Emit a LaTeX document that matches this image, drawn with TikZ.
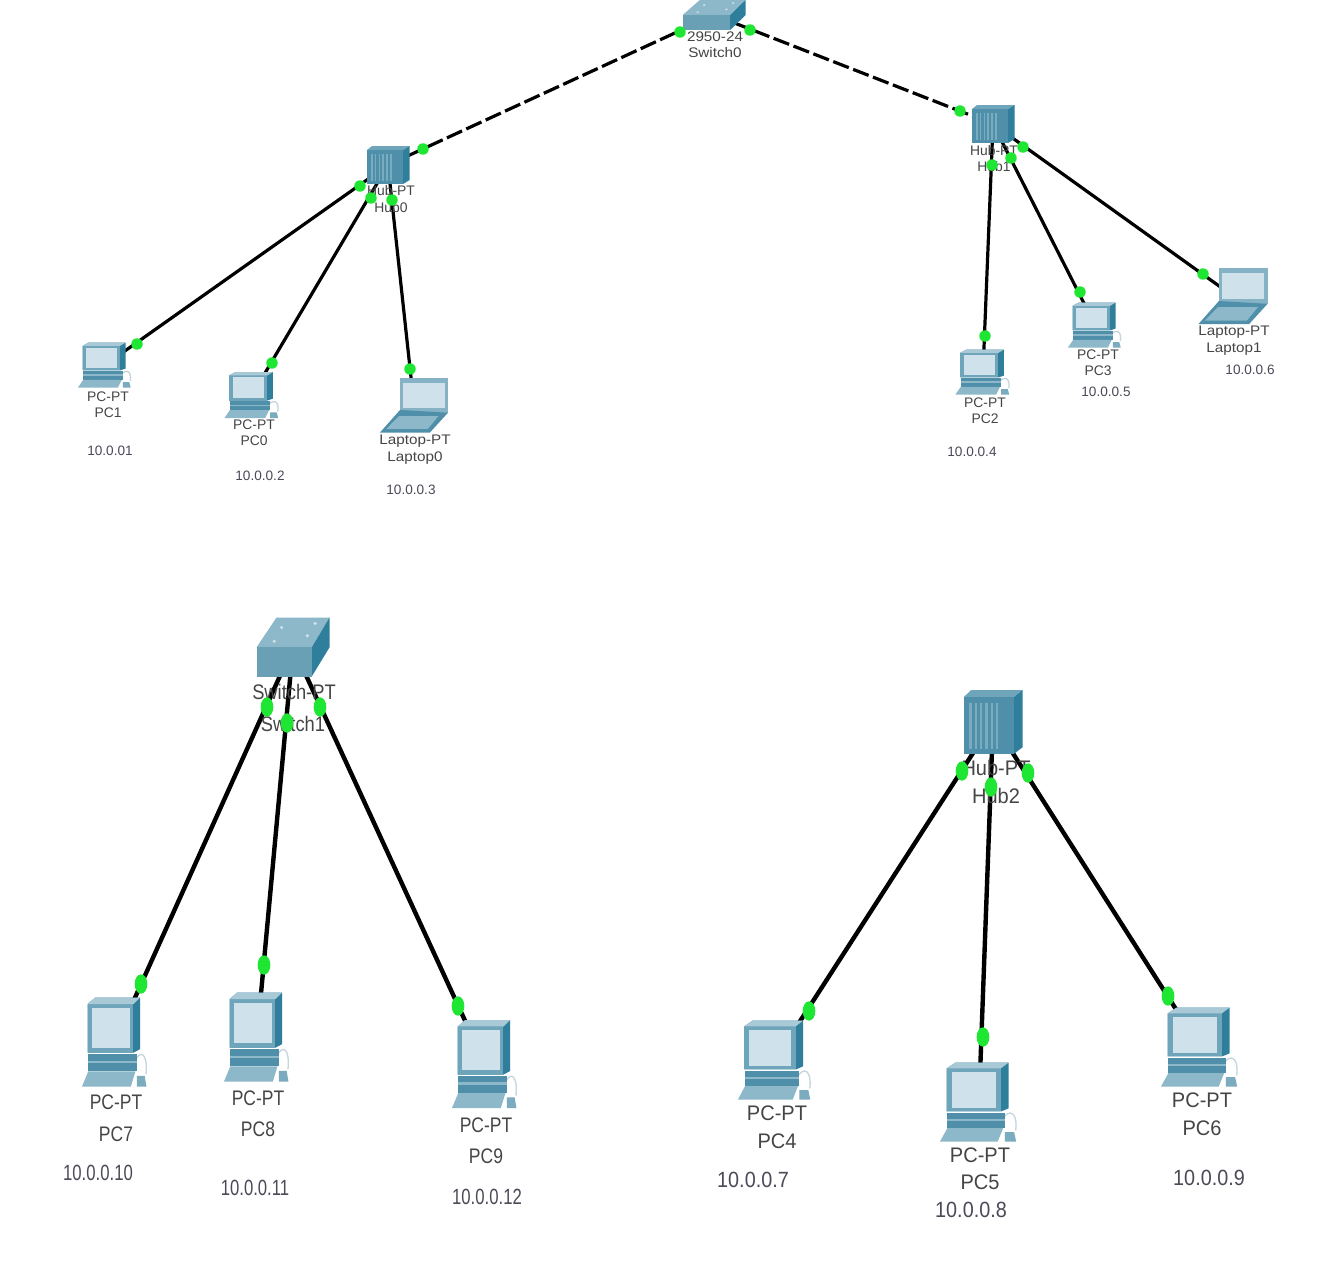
\documentclass[tikz,border=0pt]{standalone}
\usepackage{graphicx}
\usepackage{fontspec}
\setmainfont{Liberation Sans}
\usetikzlibrary{shapes.geometric}
\definecolor{frameC}{HTML}{6FA5BA}
\definecolor{darkC}{HTML}{2F7F9C}
\definecolor{midC}{HTML}{4F8FA9}
\definecolor{lightC}{HTML}{8CB8C9}
\definecolor{screenC}{HTML}{CFE1EA}
\definecolor{mouseC}{HTML}{C5D6DC}
\definecolor{txtC}{HTML}{454548}
\definecolor{ipC}{HTML}{4A4A58}
\definecolor{portC}{HTML}{1FE632}
\newcommand{\squeezed}[1]{\scalebox{.83}[1]{#1}}
\newcommand{\squeezedwide}[1]{\scalebox{.95}[1]{#1}}
\newcommand{\squeezedsw}[1]{\scalebox{.87}[1]{#1}}
\newcommand{\squeezedip}[1]{\scalebox{.76}[1]{#1}}
\newcommand{\squeezedipwide}[1]{\scalebox{.9}[1]{#1}}
\newcommand{\widened}[1]{\scalebox{1.1}[1]{#1}}
\tikzset{
  link/.style={line width=2.4pt,black},
  biglink/.style={line width=3.3pt,black},
  fiber/.style={line width=2.4pt,black,dash pattern=on 12.5pt off 3.5pt},
  portdot/.style={ellipse,fill=portC,inner sep=0pt,minimum width=8.6pt,minimum height=8.6pt},
  bigdot/.style={ellipse,fill=portC,inner sep=0pt,minimum width=9.5pt,minimum height=14.5pt},
  smalltxt/.style={font=\fontsize{10.4pt}{12pt}\selectfont,text=txtC,inner sep=0pt},
  smallip/.style={font=\fontsize{10.2pt}{12pt}\selectfont,text=ipC,inner sep=0pt},
  bigtxt/.style={font=\fontsize{15.8pt}{18pt}\selectfont,text=txtC,inner sep=0pt},
  bigip/.style={font=\fontsize{16.5pt}{18pt}\selectfont,text=ipC,inner sep=0pt},
  pcicon/.pic={
    \draw[mouseC,line width=1pt] (.3,.22) .. controls (.38,.08) and (.5,.12) .. (.47,.36);
    \fill[midC!75!white] (.33,.38) -- (.45,.38) -- (.476,.5) -- (.33,.5) -- cycle;
    \fill[darkC] (-.3,-.5) -- (.38,-.5) -- (.38,.08) -- (.28,.12) -- (-.414,.12) -- (-.414,-.426) -- cycle;
    \fill[frameC] (-.414,-.426) rectangle (.28,.12);
    \fill[frameC!60!white] (-.414,-.426) -- (-.3,-.5) -- (.38,-.5) -- (.28,-.426) -- cycle;
    \fill[screenC] (-.348,-.385) rectangle (.22,.07);
    \fill[midC] (-.405,.14) rectangle (.33,.33);
    \fill[lightC] (-.405,.21) rectangle (.33,.24);
    \fill[lightC] (-.405,.33) -- (.31,.33) -- (.24,.5) -- (-.5,.5) -- cycle;
  },
  laptopicon/.pic={
    \fill[frameC!85!white] (-.205,-.5) rectangle (.5,.14);
    \fill[screenC] (-.156,-.406) rectangle (.454,.05);
    \fill[midC] (-.205,.09) -- (.5,.14) -- (.234,.5) -- (-.5,.5) -- cycle;
    \fill[lightC] (-.22,.2) -- (.36,.2) -- (.2,.44) -- (-.41,.44) -- cycle;
  },
  hubicon/.pic={
    \fill[frameC] (-.5,-.385) -- (-.37,-.5) -- (.5,-.5) -- (.35,-.385) -- cycle;
    \fill[darkC] (.35,-.385) -- (.5,-.5) -- (.5,.396) -- (.35,.5) -- cycle;
    \fill[midC] (-.5,-.385) rectangle (.35,.5);
    \foreach \u in {-.4,-.31,-.22,-.13,-.04,.05}
      \fill[lightC!70!midC] (\u,-.3) rectangle ({\u+.04},.42);
  },
  switchicon/.pic={
    \fill[lightC] (-.5,.006) -- (-.225,-.5) -- (.5,-.5) -- (.257,.006) -- cycle;
    \fill[darkC] (.257,.006) -- (.5,-.5) -- (.5,.006) -- (.257,.5) -- cycle;
    \fill[midC!85!white] (-.5,.006) rectangle (.257,.5);
    \foreach \u/\v in {-.156/-.33,.303/-.4,.197/-.19,-.257/-.096}
      \fill[screenC] (\u,\v) circle[x radius=.025,y radius=.03];
  },
}
\begin{document}
\begin{tikzpicture}[x=0.75pt,y=-0.75pt]
\useasboundingbox[fill=white] (0,0) rectangle (1324,1271);
% device centres
\coordinate (switch0) at (714,15);
\coordinate (hub0) at (388,165);
\coordinate (hub1) at (993,124);
\coordinate (pc1) at (105,365);
\coordinate (pc0) at (252,395);
\coordinate (laptop0) at (414,405);
\coordinate (pc2) at (983,372);
\coordinate (pc3) at (1095,325);
\coordinate (laptop1) at (1233,296);
\coordinate (switch1) at (293,647);
\coordinate (hub2) at (993,722);
\coordinate (pc7) at (115,1042);
\coordinate (pc8) at (257,1037);
\coordinate (pc9) at (485,1064);
\coordinate (pc4) at (775,1060);
\coordinate (pc5) at (979,1102);
\coordinate (pc6) at (1200,1047);
% connectors
\draw[fiber] (switch0) -- (hub0);
\draw[fiber] (switch0) -- (hub1);
\foreach \d in {pc1,pc0,laptop0} \draw[link] (hub0) -- (\d);
\foreach \d in {pc2,pc3,laptop1} \draw[link] (hub1) -- (\d);
\foreach \d in {pc7,pc8,pc9} \draw[biglink] (switch1) -- (\d);
\foreach \d in {pc4,pc5,pc6} \draw[biglink] (hub2) -- (\d);
% icons
\pic[xscale=63,yscale=30] at (switch0) {switchicon};
\pic[xscale=43,yscale=38] at (hub0) {hubicon};
\pic[xscale=43,yscale=38] at (hub1) {hubicon};
\pic[xscale=54,yscale=45] at (pc1) {pcicon};
\pic[xscale=55,yscale=46] at (pc0) {pcicon};
\pic[xscale=68,yscale=55] at (laptop0) {laptopicon};
\pic[xscale=55,yscale=45] at (pc2) {pcicon};
\pic[xscale=54,yscale=45] at (pc3) {pcicon};
\pic[xscale=69,yscale=56] at (laptop1) {laptopicon};
\pic[xscale=73,yscale=59] at (switch1) {switchicon};
\pic[xscale=59,yscale=64] at (hub2) {hubicon};
\pic[xscale=66,yscale=89] at (pc7) {pcicon};
\pic[xscale=66,yscale=89] at (pc8) {pcicon};
\pic[xscale=66,yscale=88] at (pc9) {pcicon};
\pic[xscale=74,yscale=79] at (pc4) {pcicon};
\pic[xscale=78,yscale=79] at (pc5) {pcicon};
\pic[xscale=78,yscale=79] at (pc6) {pcicon};
% small labels
\node[smalltxt] (t1) at (715,37) {\widened{2950-24}};
\node[smalltxt] (t2) at (715,53) {\widened{Switch0}};
\node[smalltxt] (t3) at (391,191) {Hub-PT};
\node[smalltxt] (t4) at (391,208) {Hub0};
\node[smalltxt] (t5) at (994,151) {Hub-PT};
\node[smalltxt] (t6) at (994,167) {Hub1};
\node[smalltxt] (t7) at (108,397) {PC-PT};
\node[smalltxt] (t8) at (108,413) {PC1};
\node[smallip] (i1) at (110,451) {10.0.01};
\node[smalltxt] (t9) at (254,425) {PC-PT};
\node[smalltxt] (t10) at (254,441) {PC0};
\node[smallip] (i2) at (260,476) {10.0.0.2};
\node[smalltxt] (t11) at (415,441) {\widened{Laptop-PT}};
\node[smalltxt] (t12) at (415,458) {\widened{Laptop0}};
\node[smallip] (i3) at (411,490) {10.0.0.3};
\node[smalltxt] (t13) at (985,403) {PC-PT};
\node[smalltxt] (t14) at (985,419) {PC2};
\node[smallip] (i4) at (972,452) {10.0.0.4};
\node[smalltxt] (t15) at (1098,355) {PC-PT};
\node[smalltxt] (t16) at (1098,371) {PC3};
\node[smallip] (i5) at (1106,392) {10.0.0.5};
\node[smalltxt] (t17) at (1234,332) {\widened{Laptop-PT}};
\node[smalltxt] (t18) at (1234,349) {\widened{Laptop1}};
\node[smallip] (i6) at (1250,370) {10.0.0.6};
% large labels
\node[bigtxt] (t19) at (294,692) {\squeezedsw{Switch-PT}};
\node[bigtxt] (t20) at (293,724) {\squeezedsw{Switch1}};
\node[bigtxt] (t21) at (996,768) {\squeezedwide{Hub-PT}};
\node[bigtxt] (t22) at (996,796) {\squeezedwide{Hub2}};
\node[bigtxt] (t23) at (116,1102) {\squeezed{PC-PT}};
\node[bigtxt] (t24) at (116,1134) {\squeezed{PC7}};
\node[bigip] (i7) at (98,1173) {\squeezedip{10.0.0.10}};
\node[bigtxt] (t25) at (258,1098) {\squeezed{PC-PT}};
\node[bigtxt] (t26) at (258,1129) {\squeezed{PC8}};
\node[bigip] (i8) at (255,1188) {\squeezedip{10.0.0.11}};
\node[bigtxt] (t27) at (486,1125) {\squeezed{PC-PT}};
\node[bigtxt] (t28) at (486,1156) {\squeezed{PC9}};
\node[bigip] (i9) at (487,1197) {\squeezedip{10.0.0.12}};
\node[bigtxt] (t29) at (777,1113) {\squeezedwide{PC-PT}};
\node[bigtxt] (t30) at (777,1141) {\squeezedwide{PC4}};
\node[bigip] (i10) at (753,1180) {\squeezedipwide{10.0.0.7}};
\node[bigtxt] (t31) at (980,1155) {\squeezedwide{PC-PT}};
\node[bigtxt] (t32) at (980,1182) {\squeezedwide{PC5}};
\node[bigip] (i11) at (971,1210) {\squeezedipwide{10.0.0.8}};
\node[bigtxt] (t33) at (1202,1100) {\squeezedwide{PC-PT}};
\node[bigtxt] (t34) at (1202,1128) {\squeezedwide{PC6}};
\node[bigip] (i12) at (1209,1178) {\squeezedipwide{10.0.0.9}};
% port lights
\foreach \n/\p in {a/{680,32},b/{423,149},c/{750,30},d/{960,111},e/{360,186},f/{137,344},g/{371,198},h/{272,363},i/{392,200},j/{410,369},k/{992,165},l/{985,336},m/{1011,158},n/{1080,292},o/{1023,147},p/{1203,274}}
  \node[portdot] (port\n) at (\p) {};
\foreach \n/\p in {a/{141,984},b/{267,707},c/{264,965},d/{287,723},e/{458,1006},f/{320,707},g/{809,1011},h/{962,771},i/{983,1037},j/{991,787},k/{1168,996},l/{1028,773}}
  \node[bigdot] (bigport\n) at (\p) {};
\end{tikzpicture}
\end{document}
